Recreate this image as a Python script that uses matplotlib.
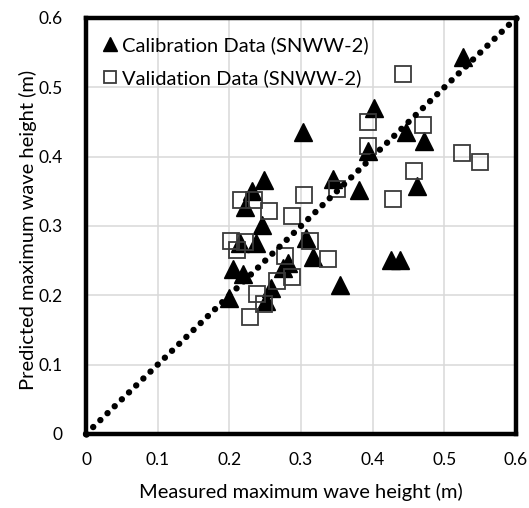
import matplotlib
matplotlib.use('Agg')
import matplotlib.pyplot as plt
from matplotlib.patches import Rectangle
import numpy as np

plt.rcParams['font.family'] = ['Lato', 'DejaVu Sans']

# Calibration data (SNWW-2): measured vs predicted
cal_measured = [0.526, 0.402, 0.303, 0.447, 0.471, 0.394, 0.248, 0.344, 0.462,
                0.381, 0.232, 0.222, 0.245, 0.307, 0.215, 0.237, 0.317, 0.425,
                0.438, 0.282, 0.275, 0.205, 0.219, 0.354, 0.258, 0.200, 0.251]
cal_predicted = [0.544, 0.470, 0.436, 0.436, 0.422, 0.408, 0.367, 0.368, 0.357,
                 0.352, 0.350, 0.328, 0.302, 0.282, 0.275, 0.275, 0.256, 0.251,
                 0.251, 0.246, 0.240, 0.238, 0.231, 0.215, 0.210, 0.196, 0.192]

# Validation data (SNWW-2)
val_measured = [0.443, 0.393, 0.470, 0.394, 0.524, 0.550, 0.457, 0.350, 0.304,
                0.429, 0.216, 0.234, 0.255, 0.287, 0.313, 0.202, 0.222, 0.210,
                0.278, 0.337, 0.287, 0.267, 0.239, 0.248, 0.229]
val_predicted = [0.519, 0.450, 0.446, 0.416, 0.406, 0.392, 0.379, 0.353, 0.345,
                 0.339, 0.338, 0.338, 0.322, 0.315, 0.279, 0.278, 0.277, 0.265,
                 0.257, 0.253, 0.227, 0.221, 0.202, 0.188, 0.169]

# линия идеального совпадения
line_x = [0, 0.6]
line_y = [0, 0.6]

ticks = [0, 0.1, 0.2, 0.3, 0.4, 0.5, 0.6]
tick_labels = ['0', '0.1', '0.2', '0.3', '0.4', '0.5', '0.6']

fig = plt.figure(figsize=(5.29, 5.08), dpi=100)
ax = fig.add_axes([86 / 529, 1 - 434 / 508, 430 / 529, 416 / 508])

ax.plot(line_x, line_y, color='black', linewidth=4.6,
        linestyle=(0, (0.01, 1.551)), dash_capstyle='round', zorder=6,
        marker='o', markersize=4.6, markeredgewidth=0, clip_on=False)

ax.plot(cal_measured, cal_predicted, linestyle='none', marker='^',
        markersize=13, color='black', label='Calibration Data (SNWW-2)', zorder=3)
ax.plot(val_measured, val_predicted, linestyle='none', marker='s',
        markersize=11, markerfacecolor='none', markeredgecolor='#3a3a3a',
        markeredgewidth=1.3, label='Validation Data (SNWW-2)', zorder=3)

ax.set_xlim(0, 0.6)
ax.set_ylim(0, 0.6)
ax.set_xticks(ticks)
ax.set_xticklabels(tick_labels)
ax.set_yticks(ticks)
ax.set_yticklabels(tick_labels)
ax.tick_params(length=0, labelsize=12.5, colors='black')
ax.tick_params(axis='x', pad=13)
ax.tick_params(axis='y', pad=17)

ax.grid(True, color='#d9d9d9', linewidth=1.1, zorder=0)
ax.set_axisbelow(True)

ax.set_xlabel('Measured maximum wave height (m)', fontsize=14.5)
ax.set_ylabel('Predicted maximum wave height (m)', fontsize=14.5)
ax.xaxis.set_label_coords(0.5, -0.118)
ax.yaxis.set_label_coords(-0.114, 0.49)

# двойная рамка как в Excel
for s in ax.spines.values():
    s.set_color('black')
    s.set_linewidth(3.2)
    s.set_zorder(5)
ax.add_patch(Rectangle((0, 0), 1, 1, transform=ax.transAxes, fill=False,
                       edgecolor='#8c8c8c', linewidth=1.4, clip_on=False, zorder=5))

leg = ax.legend(loc='upper left', bbox_to_anchor=(0.0, 1.0), frameon=False,
                fontsize=14.5, handlelength=0.6, handletextpad=0.3,
                labelspacing=0.75, borderaxespad=0.5, markerscale=0.75)

fig.savefig('out.png', dpi=100)
